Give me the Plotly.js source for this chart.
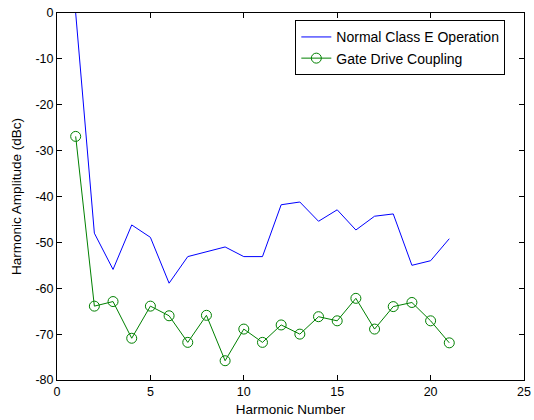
<!DOCTYPE html>
<html>
<head>
<meta charset="utf-8">
<script src="https://cdn.plot.ly/plotly-3.0.1.min.js"></script>
<style>html,body{margin:0;padding:0;background:#fff;}#chart{width:534px;height:420px;}</style>
</head>
<body>
<div id="chart"></div>
<script>
var harmonics = [1,2,3,4,5,6,7,8,9,10,11,12,13,14,15,16,17,18,19,20,21];
var normalClassE = [0,-48,-55.9,-46.2,-48.9,-58.9,-53.1,-52,-51,-53.1,-53.1,-41.8,-41.2,-45.4,-42.9,-47.3,-44.3,-43.8,-55,-54,-49.2];
var gateDrive = [-26.9,-63.9,-62.9,-70.9,-63.9,-66,-71.8,-65.9,-75.8,-68.9,-71.8,-68,-70,-66.2,-67.1,-62.2,-68.9,-64,-63.1,-67.1,-71.9];
var xTicks = [0,5,10,15,20,25];
var yTicks = [0,-10,-20,-30,-40,-50,-60,-70,-80];

var fam = 'Liberation Sans, Arial, sans-serif';
var tickFont = {family: fam, size: 12.5, color: '#000'};
var titleFont = {family: fam, size: 13.5, color: '#000'};
var legendFont = {family: fam, size: 14, color: '#000'};
var traces = [
  {x: harmonics, y: normalClassE, type: 'scatter', mode: 'lines', name: 'Normal Class E Operation',
   line: {color: '#0000ff', width: 1}},
  {x: harmonics, y: gateDrive, type: 'scatter', mode: 'lines+markers', name: 'Gate Drive Coupling',
   line: {color: '#008000', width: 1},
   marker: {symbol: 'circle-open', size: 10, color: '#008000', line: {width: 1, color: '#008000'}}}
];
var axisCommon = {
  showgrid: false, zeroline: false, showline: true, linecolor: '#000', linewidth: 1,
  mirror: 'ticks', ticks: 'inside', ticklen: 5, tickcolor: '#000', tickwidth: 1,
  tickfont: tickFont
};
var layout = {
  width: 534, height: 420,
  margin: {l: 57, r: 10, t: 13, b: 40},
  paper_bgcolor: '#fff', plot_bgcolor: '#fff',
  font: tickFont,
  showlegend: true,
  legend: {x: 0.96, y: 0.98, xanchor: 'right', yanchor: 'top', bgcolor: '#fff',
           bordercolor: '#000', borderwidth: 1, font: legendFont, tracegroupgap: 0},
  xaxis: Object.assign({}, axisCommon, {range: [0,25], tickvals: xTicks, ticktext: xTicks.map(String),
    title: {text: 'Harmonic Number', font: titleFont, standoff: 6}}),
  yaxis: Object.assign({}, axisCommon, {range: [-80,0], tickvals: yTicks, ticktext: yTicks.map(String),
    title: {text: 'Harmonic Amplitude (dBc)', font: titleFont, standoff: 10}})
};
Plotly.newPlot('chart', traces, layout, {displayModeBar: false, staticPlot: true});
</script>
</body>
</html>
